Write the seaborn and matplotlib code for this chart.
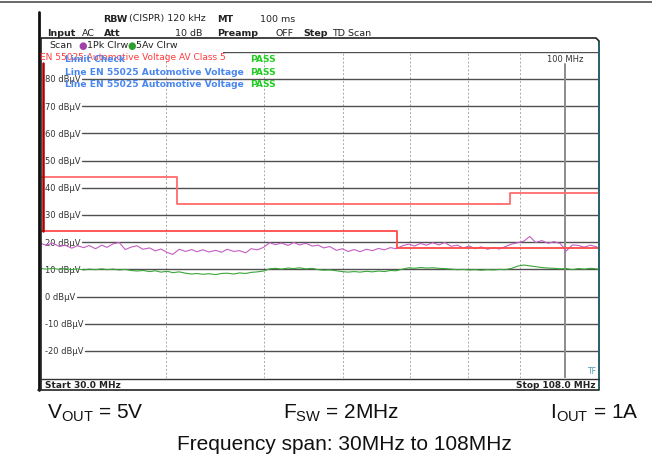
import matplotlib
matplotlib.use("Agg")
import numpy as np
import pandas as pd
import matplotlib.pyplot as plt
import seaborn as sns
from matplotlib.lines import Line2D
from matplotlib.ticker import NullLocator
from matplotlib.transforms import blended_transform_factory

W, H = 652, 460

# sweep points (MHz) and the two detector traces
freq_mhz = [30.0, 30.4, 30.8, 31.3, 31.7, 32.2, 32.6, 33.1, 33.5, 34.0,
            34.5, 34.9, 35.4, 35.9, 36.4, 36.9, 37.4, 37.9, 38.5, 39.0,
            39.5, 40.1, 40.6, 41.2, 41.8, 42.4, 42.9, 43.5, 44.1, 44.8,
            45.4, 46.0, 46.7, 47.3, 48.0, 48.6, 49.3, 50.0, 50.7, 51.4,
            52.1, 52.9, 53.6, 54.3, 55.1, 55.9, 56.7, 57.4, 58.2, 59.1,
            59.9, 60.7, 61.6, 62.4, 63.3, 64.2, 65.1, 66.0, 66.9, 67.8,
            68.8, 69.8, 70.7, 71.7, 72.7, 73.7, 74.8, 75.8, 76.9, 78.0,
            79.1, 80.2, 81.3, 82.4, 83.6, 84.8, 85.9, 87.1, 88.4, 89.6,
            90.9, 92.1, 93.4, 94.7, 96.1, 97.4, 98.8, 100.2, 101.6, 103.0,
            104.4, 105.9, 107.4, 108.0]

pk_dbuv = [19.5, 18.9, 19.7, 18.4, 18.9, 17.8, 18.7, 18.0, 18.8, 17.6,
           18.9, 18.1, 19.4, 19.9, 17.3, 18.2, 18.7, 17.4, 17.9, 16.8,
           17.5, 16.2, 15.5, 17.4, 16.6, 17.3, 16.5, 17.2, 16.4, 17.0,
           16.3, 17.4, 16.6, 16.9, 16.1, 17.6, 17.2, 18.1, 19.8, 19.1,
           19.7, 18.8, 19.9, 19.0, 19.6, 18.6, 18.9, 17.9, 18.4, 17.0,
           17.6, 16.6, 17.3, 16.5, 17.4, 16.9, 17.7, 17.2, 18.0, 17.6,
           18.7, 19.3, 18.6, 19.5, 18.9, 19.8, 19.0, 19.9, 18.5, 18.9,
           17.9, 18.6, 17.6, 18.3, 17.4, 18.0, 17.5, 18.4, 19.3, 19.8,
           20.4, 22.1, 19.9, 20.6, 19.6, 20.2, 19.5, 16.8, 19.0, 18.8,
           18.2, 18.9, 18.3, 17.4]

av_dbuv = [10.3, 10.1, 10.4, 10.0, 10.3, 9.9, 10.2, 9.8, 10.1, 9.9,
           10.2, 9.9, 10.1, 9.8, 10.0, 9.6, 9.4, 9.6, 9.2, 9.5,
           9.0, 9.3, 8.8, 9.1, 8.6, 8.3, 8.5, 8.2, 8.4, 8.1,
           8.5, 8.6, 8.3, 8.7, 8.5, 8.9, 9.1, 9.4, 10.2, 10.4,
           10.1, 10.5, 10.3, 10.6, 10.2, 10.4, 9.9, 9.7, 9.8, 9.5,
           9.2, 9.0, 9.2, 9.0, 9.3, 9.1, 9.4, 9.2, 9.6, 9.5,
           10.1, 10.6, 10.4, 10.7, 10.5, 10.6, 10.4, 10.3, 10.1, 9.9,
           10.0, 9.8, 9.9, 9.7, 9.9, 9.8, 10.0, 9.9, 10.4, 11.2,
           11.6, 11.3, 11.0, 10.7, 10.5, 10.4, 10.2, 10.3, 9.9, 10.3,
           10.1, 10.4, 10.2, 10.0]

# limit lines (step shaped)
limit_hi_freq = [30, 41, 88, 108]
limit_hi_dbuv = [44, 34, 38, 38]
limit_lo_freq = [30, 68, 108]
limit_lo_dbuv = [24, 18, 18]

grid_levels = [80, 70, 60, 50, 40, 30, 20, 10, 0, -10, -20]
grid_labels = [f"{v} dBµV" for v in grid_levels]
vgrid_freq = [40, 50, 60, 70, 80, 90]

sns.set_style("white")
plt.rcParams['font.family'] = ['DejaVu Sans']

fig = plt.figure(figsize=(W / 100, H / 100), dpi=100)


def fx(x):
    return x / W


def fy(y):
    return 1 - y / H


def hline(x0, x1, y, **kw):
    fig.add_artist(Line2D([fx(x0), fx(x1)], [fy(y), fy(y)], **kw))


def vline(x, y0, y1, **kw):
    fig.add_artist(Line2D([fx(x), fx(x)], [fy(y0), fy(y1)], **kw))


ax = fig.add_axes([fx(41), fy(379.2), 558 / W, 326.4 / H])
ax.set_xscale('log')
ax.patch.set_alpha(0)

df = pd.DataFrame({'freq': freq_mhz, 'pk': pk_dbuv, 'av': av_dbuv})
sns.lineplot(data=df, x='freq', y='av', color='#3aa63a', lw=0.8,
             estimator=None, ax=ax, zorder=3)
sns.lineplot(data=df, x='freq', y='pk', color='#c45ec4', lw=0.8,
             estimator=None, ax=ax, zorder=3)
sns.lineplot(x=limit_hi_freq, y=limit_hi_dbuv, drawstyle='steps-post',
             color='#ff6b6b', lw=1.3, estimator=None, ax=ax, zorder=4)
sns.lineplot(x=limit_lo_freq, y=limit_lo_dbuv, drawstyle='steps-post',
             color='#ff4a4a', lw=1.3, estimator=None, ax=ax, zorder=4)

ax.set_xlim(30, 108)
ax.set_ylim(-30, 90)
ax.set_xticks([])
ax.set_yticks([])
ax.xaxis.set_minor_locator(NullLocator())
ax.set_xlabel('')
ax.set_ylabel('')
for s in ax.spines.values():
    s.set_visible(False)

# dotted frequency grid, solid 100 MHz marker line
for f in vgrid_freq:
    ax.axvline(f, ls=(0, (2, 2)), color='#a8a8a8', lw=0.7, zorder=1)
ax.axvline(100, ymax=0.962, color='#8c8c8c', lw=1.4, zorder=2)
ax.text(100, 87.5, '100 MHz', ha='center', va='center', fontsize=6,
        color='#333333')
# dark red left edge of the limit display
ax.axvline(30.15, ymin=0.45, ymax=0.967, color='#b00000', lw=1.8, zorder=5)

blend = blended_transform_factory(ax.transAxes, ax.transData)
labels = [ax.text(0.008, v, lab, transform=blend, fontsize=6,
                  color='#333333', ha='left', va='center', zorder=2)
          for v, lab in zip(grid_levels, grid_labels)]
fig.canvas.draw()
bb_ax = ax.get_window_extent()
for v, t in zip(grid_levels, labels):
    x1 = t.get_window_extent().x1
    ax.axhline(v, xmin=(x1 - bb_ax.x0) / bb_ax.width + 0.002,
               color='#505050', lw=1.0, zorder=1)
ax.axhline(90, xmin=0.326, color='#505050', lw=1.0, zorder=1)

# instrument frame
hline(0, W, 3, color='#505050', lw=1.2)
vline(39, 13, 391, color='#111111', lw=2.0)
fig.add_artist(Line2D([fx(41), fx(41), fx(596), fx(599), fx(599)],
                      [fy(390), fy(39), fy(39), fy(42), fy(390)],
                      color='#222222', lw=1.2))
vline(599, 44, 390, color='#2a6470', lw=1.4)
hline(41, 599, 379.5, color='#333333', lw=1.0)
hline(38, 599, 390.5, color='#222222', lw=1.2)

small = dict(fontsize=6.8, color='#222222', va='center')
bold = dict(small, fontweight='bold')
fig.text(fx(103), fy(19), 'RBW', **bold)
fig.text(fx(129), fy(19), '(CISPR) 120 kHz', **small)
fig.text(fx(217), fy(19), 'MT', **bold)
fig.text(fx(260), fy(19), '100 ms', **small)
fig.text(fx(47), fy(33), 'Input', **bold)
fig.text(fx(82), fy(33), 'AC', **small)
fig.text(fx(104), fy(33), 'Att', **bold)
fig.text(fx(202), fy(33), '10 dB', ha='right', **small)
fig.text(fx(217), fy(33), 'Preamp', **bold)
fig.text(fx(275), fy(33), 'OFF', **small)
fig.text(fx(303), fy(33), 'Step', **bold)
fig.text(fx(332), fy(33), 'TD Scan', **small)

fig.text(fx(49), fy(46), 'Scan', **small)
fig.text(fx(83), fy(46), '●', fontsize=7, color='#a040a8', ha='center',
         va='center')
fig.text(fx(87), fy(46), '1Pk Clrw', **small)
fig.text(fx(132), fy(46), '●', fontsize=7, color='#2e9e2e', ha='center',
         va='center')
fig.text(fx(136), fy(46), '5Av Clrw', **small)

fig.text(fx(40), fy(58), 'EN 55025 Automotive Voltage AV Class 5',
         fontsize=6.5, color='#ff3b3b', va='center')
blue = dict(fontsize=6.6, color='#4a86f0', fontweight='bold', va='center')
green = dict(fontsize=6.6, color='#22cc22', fontweight='bold', va='center')
fig.text(fx(65), fy(59), 'Limit Check', **blue)
fig.text(fx(65), fy(72.5), 'Line EN 55025 Automotive Voltage', **blue)
fig.text(fx(65), fy(85), 'Line EN 55025 Automotive Voltage', **blue)
for yy in (59, 72.5, 85):
    fig.text(fx(250), fy(yy), 'PASS', **green)

fig.text(fx(45), fy(385), 'Start 30.0 MHz', fontsize=6.5, fontweight='bold',
         color='#222222', va='center')
fig.text(fx(596), fy(385), 'Stop 108.0 MHz', fontsize=6.5, fontweight='bold',
         color='#222222', va='center', ha='right')
fig.text(fx(597), fy(372), 'TF', fontsize=5.5, color='#4a9ab0',
         va='center', ha='right')

# test conditions under the screenshot
cap = dict(fontsize=15, color='#111111', va='center',
           family=['Liberation Sans', 'DejaVu Sans'])
fig.text(fx(47), fy(413), r'V$_{\mathregular{OUT}}$ = 5V', **cap)
fig.text(fx(283), fy(413), r'F$_{\mathregular{SW}}$ = 2MHz', **cap)
fig.text(fx(550), fy(413), r'I$_{\mathregular{OUT}}$ = 1A', **cap)
fig.text(fx(344), fy(445), 'Frequency span: 30MHz to 108MHz', ha='center',
         **cap)

fig.savefig('out.png', dpi=100)
